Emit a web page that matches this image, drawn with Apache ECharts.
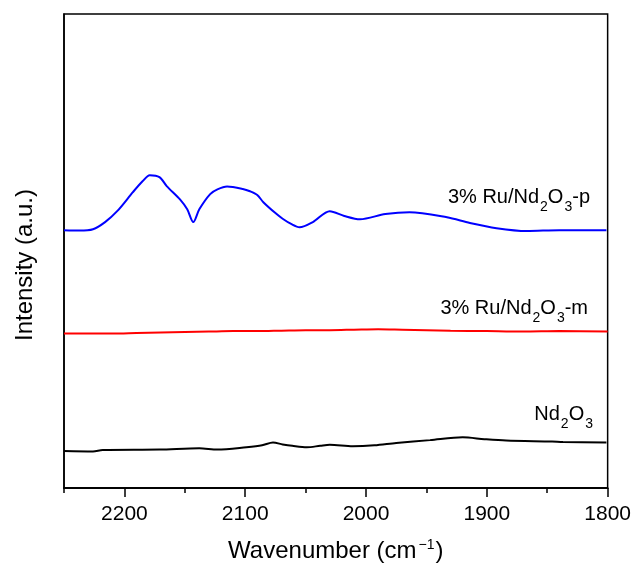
<!DOCTYPE html>
<html>
<head>
<meta charset="utf-8">
<script src="https://cdn.jsdelivr.net/npm/echarts@6/dist/echarts.min.js"></script>
<style>html,body{margin:0;padding:0;background:#fff;}#c{width:634px;height:569px;}</style>
</head>
<body>
<div id="c"></div>
<script>
// Data (wavenumber in cm-1, intensity in a.u.)
const tickLabels = [2200, 2100, 2000, 1900, 1800];
const minorTicks = [2250, 2150, 2050, 1950, 1850];

const pWavenumber = [2250,2237,2226,2216,2206,2193,2185,2179,2171,2165,2154,2148,2143,2138,2129,2123,2115,2102,2096,2090,2085,2075,2069,2062,2055,2044,2030,2018,2005,1984,1964,1933,1914,1892,1867,1840,1801];
const pIntensity  = [54.4,54.3,54.6,56.1,58.4,62.4,64.7,66.0,65.6,63.7,60.9,58.8,56.1,58.8,62.0,63.0,63.6,63.1,62.6,61.8,60.3,58.0,56.8,55.7,55.0,56.1,58.4,57.4,56.7,57.8,58.2,57.1,55.9,54.8,54.2,54.4,54.4];

const mWavenumber = [2250,2230,2210,2190,2170,2150,2130,2110,2090,2070,2050,2030,2010,1990,1970,1950,1930,1900,1870,1840,1800];
const mIntensity  = [32.6,32.6,32.6,32.7,32.8,32.9,33.0,33.1,33.1,33.2,33.3,33.3,33.4,33.5,33.4,33.3,33.2,33.1,33.0,33.1,33.0];

const ndWavenumber = [2250,2226,2218,2171,2138,2123,2099,2086,2077,2069,2061,2049,2038,2030,2011,1993,1975,1947,1920,1902,1884,1846,1837,1801];
const ndIntensity  = [7.8,7.7,8.0,8.1,8.4,8.1,8.6,9.0,9.6,9.2,8.9,8.6,8.9,9.1,8.8,9.0,9.5,10.1,10.7,10.3,10.0,9.8,9.7,9.6];

const seriesNames = ['3% Ru/Nd2O3-p', '3% Ru/Nd2O3-m', 'Nd2O3'];

function pairs(xs, ys) { return xs.map((x, i) => [x, ys[i]]); }

const FONT = 'Arial, "Liberation Sans", sans-serif';
const chart = echarts.init(document.getElementById('c'), null, {renderer: 'canvas'});

const mainStyle = {fontSize: 20, fontFamily: FONT, color: '#000', lineHeight: 22, verticalAlign: 'top'};
const subStyle = {fontSize: 14, fontFamily: FONT, color: '#000', lineHeight: 14, verticalAlign: 'top', padding: [13, 0, 0, 1]};

function labelText(x, y, text) {
  return {
    type: 'text', x: x, y: y,
    style: {
      text: text, align: 'right', verticalAlign: 'top',
      rich: {a: mainStyle, s: subStyle}
    }
  };
}

const xBase = {
  type: 'value', min: 1800, max: 2250, inverse: true, position: 'bottom',
  splitLine: {show: false},
  axisLine: {show: true, onZero: false, lineStyle: {color: '#000', width: 1.5}}
};

chart.setOption({
  animation: false,
  backgroundColor: '#fff',
  grid: {left: 64, right: 26, top: 14, bottom: 79, show: true, borderColor: '#000', borderWidth: 1.5, containLabel: false},
  xAxis: [
    Object.assign({}, xBase, {
      axisTick: {show: true, inside: false, length: 5, customValues: minorTicks, lineStyle: {color: '#000', width: 1.5}},
      axisLabel: {show: false}
    }),
    Object.assign({}, xBase, {
      axisTick: {show: true, inside: false, length: 9, customValues: tickLabels, lineStyle: {color: '#000', width: 1.5}},
      axisLabel: {show: true, customValues: tickLabels, margin: 16, fontSize: 21, fontFamily: FONT, color: '#000',
        formatter: function (v) { return String(v); }},
      name: 'Wavenumber (cm{sup|\u22121})',
      nameLocation: 'middle', nameGap: 50,
      nameTextStyle: {fontSize: 24, fontFamily: FONT, color: '#000', lineHeight: 26, verticalAlign: 'top',
        rich: {sup: {fontSize: 14, fontFamily: FONT, color: '#000', verticalAlign: 'top', lineHeight: 14, padding: [0, 1, 0, 2]}}}
    })
  ],
  yAxis: {
    type: 'value', min: 0, max: 100,
    axisLabel: {show: false}, axisTick: {show: false}, splitLine: {show: false},
    axisLine: {show: true, lineStyle: {color: '#000', width: 1.5}},
    name: 'Intensity (a.u.)', nameLocation: 'middle', nameGap: 27,
    nameTextStyle: {fontSize: 24, fontFamily: FONT, color: '#000', padding: [0, 28, 0, 0]}
  },
  series: [
    {name: seriesNames[0], type: 'line', xAxisIndex: 0, data: pairs(pWavenumber, pIntensity), showSymbol: false, smooth: 0.3,
      lineStyle: {color: '#0000ff', width: 2}, itemStyle: {color: '#0000ff'}},
    {name: seriesNames[1], type: 'line', xAxisIndex: 0, data: pairs(mWavenumber, mIntensity), showSymbol: false, smooth: 0.3,
      lineStyle: {color: '#ff0000', width: 2}, itemStyle: {color: '#ff0000'}},
    {name: seriesNames[2], type: 'line', xAxisIndex: 0, data: pairs(ndWavenumber, ndIntensity), showSymbol: false, smooth: 0.3,
      lineStyle: {color: '#000000', width: 2}, itemStyle: {color: '#000000'}}
  ],
  graphic: [
    labelText(590, 187, '{a|3% Ru/Nd}{s|2}{a|O}{s|3}{a|-p}'),
    labelText(588, 298, '{a|3% Ru/Nd}{s|2}{a|O}{s|3}{a|-m}'),
    labelText(593, 404, '{a|Nd}{s|2}{a|O}{s|3}')
  ]
});
</script>
</body>
</html>
